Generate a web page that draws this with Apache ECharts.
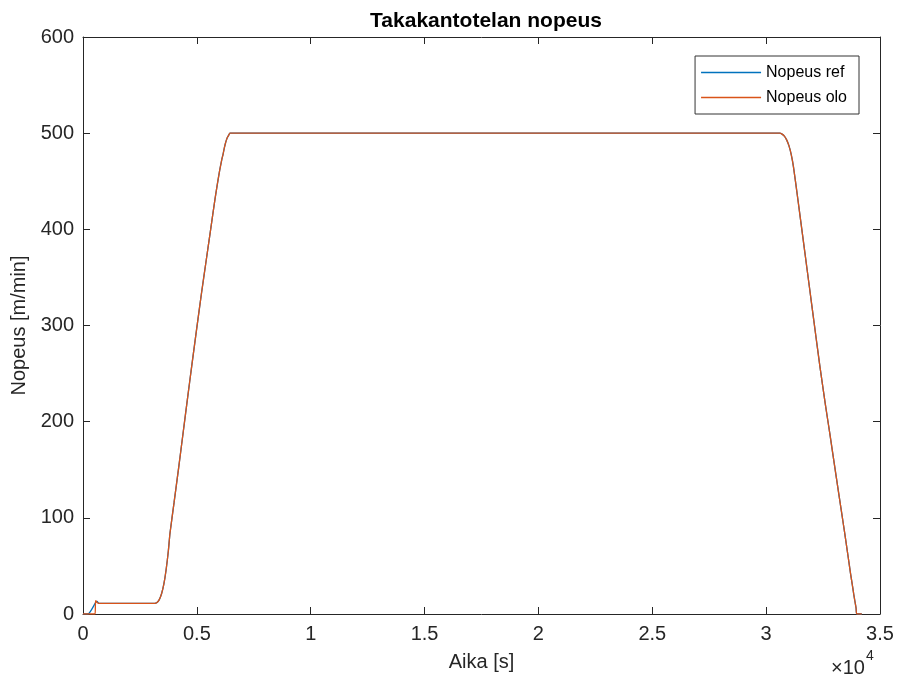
<!DOCTYPE html>
<html>
<head>
<meta charset="utf-8">
<script src="https://cdn.jsdelivr.net/npm/echarts@6/dist/echarts.min.js"></script>
<style>
html,body{margin:0;padding:0;background:#fff;}
#chart{width:897px;height:678px;}
</style>
</head>
<body>
<div id="chart"></div>
<script>
// Series data (time in s, speed in m/min)
const refTime = [0,220,560,620,700,1000,2000,3000,3150,3250,3350,3450,3550,3650,3750,3820,4000,4200,4400,4600,4770,5000,5200,5400,5600,5800,5900,6000,6090,6150,6200,6250,6300,6350,6400,6450,6600,10000,20000,30000,30500,30600,30700,30800,30900,31000,31100,31200,31400,31600,31800,32000,32200,32370,32600,32800,33000,33170,33400,33500,33610,33700,33800,33850,33900,33950,33980,34200];
const refSpeed = [0,0,12,13,11,11,11,11,11,12,15,21,31,46,66,84,116,152,189,226,257,298,333,366,399,432,447,461,472,478,484,489,493,496,498,500,500,500,500,500,500,500,499,497,493,487,478,465,430,394,358,322,286,256,218,187,155,128,92,76,58,43,28,20,13,6,0,0];
const oloTime = [0,530,545,560,620,700,1000,2000,3000,3150,3250,3350,3450,3550,3650,3750,3820,4000,4200,4400,4600,4770,5000,5200,5400,5600,5800,5900,6000,6090,6150,6200,6250,6300,6350,6400,6450,6600,10000,20000,30000,30500,30600,30700,30800,30900,31000,31100,31200,31400,31600,31800,32000,32200,32370,32600,32800,33000,33170,33400,33500,33610,33700,33800,33850,33900,33950,33980,34200];
const oloSpeed = [0,0,10,14,12,11,11,11,11,11,12,15,21,31,46,66,84,116,152,189,226,257,298,333,366,399,432,447,461,472,478,484,489,493,496,498,500,500,500,500,500,500,500,499,497,493,487,478,465,430,394,358,322,286,256,218,187,155,128,92,76,58,43,28,20,13,6,0,0];
const seriesNames = ['Nopeus ref','Nopeus olo'];
const xTicks = {min:0, max:35000, interval:5000};
const yTicks = {min:0, max:600, interval:100};

const FONT = '"Liberation Sans", Arial, sans-serif';
const AX = '#262626';
const zip = (a,b) => a.map((v,i)=>[v,b[i]]);

const chart = echarts.init(document.getElementById('chart'), null, {renderer:'canvas'});
const tickFmt = v => String(v/10000);
chart.setOption({
  animation:false,
  backgroundColor:'#fff',
  title:{text:'Takakantotelan nopeus', left:481, top:6, textAlign:'center',
    textStyle:{fontFamily:FONT, fontWeight:'bold', fontSize:21, color:'#000'}},
  legend:{
    data:seriesNames, orient:'vertical', right:38, top:56,
    icon:'rect', itemWidth:60, itemHeight:1.5, itemGap:6,
    padding:[7,12,7,6],
    borderColor:'#333', borderWidth:1, backgroundColor:'#fff',
    textStyle:{fontFamily:FONT, fontSize:16, color:'#000', lineHeight:19}
  },
  grid:{left:83, right:17, top:37, bottom:64, containLabel:false},
  xAxis:[{
    type:'value', min:xTicks.min, max:xTicks.max, interval:xTicks.interval,
    name:'Aika [s]', nameLocation:'middle', nameGap:38,
    nameTextStyle:{fontFamily:FONT, fontSize:20, color:AX},
    axisLine:{show:true, onZero:false, lineStyle:{color:AX, width:1}},
    axisTick:{show:true, inside:true, length:7, lineStyle:{color:AX}},
    axisLabel:{formatter:tickFmt, fontFamily:FONT, fontSize:20, color:AX, margin:10},
    splitLine:{show:false}
  },{
    type:'value', position:'top', min:xTicks.min, max:xTicks.max, interval:xTicks.interval,
    axisLine:{show:true, onZero:false, lineStyle:{color:AX, width:1}},
    axisTick:{show:true, inside:true, length:7, lineStyle:{color:AX}},
    axisLabel:{show:false}, splitLine:{show:false}
  }],
  yAxis:[{
    type:'value', min:yTicks.min, max:yTicks.max, interval:yTicks.interval,
    name:'Nopeus [m/min]', nameLocation:'middle', nameGap:51, nameRotate:90,
    nameTextStyle:{fontFamily:FONT, fontSize:20, color:AX},
    axisLine:{show:true, onZero:false, lineStyle:{color:AX, width:1}},
    axisTick:{show:true, inside:true, length:7, lineStyle:{color:AX}},
    axisLabel:{fontFamily:FONT, fontSize:20, color:AX, margin:9},
    splitLine:{show:false}
  },{
    type:'value', position:'right', min:yTicks.min, max:yTicks.max, interval:yTicks.interval,
    axisLine:{show:true, onZero:false, lineStyle:{color:AX, width:1}},
    axisTick:{show:true, inside:true, length:7, lineStyle:{color:AX}},
    axisLabel:{show:false}, splitLine:{show:false}
  }],
  graphic:[{
    type:'text', left:831, top:649,
    style:{
      text:'{a|×10}{b|4}',
      rich:{
        a:{fontFamily:FONT, fontSize:20, fill:AX, verticalAlign:'bottom', padding:[9,0,0,0]},
        b:{fontFamily:FONT, fontSize:14, fill:AX, verticalAlign:'top', padding:[0,0,11,1]}
      }
    }
  }],
  series:[
    {name:seriesNames[0], type:'line', data:zip(refTime,refSpeed), showSymbol:false, symbol:'none',
     smooth:0.2, lineStyle:{color:'#0072BD', width:1.3}, itemStyle:{color:'#0072BD'}},
    {name:seriesNames[1], type:'line', data:zip(oloTime,oloSpeed), showSymbol:false, symbol:'none',
     smooth:0.2, lineStyle:{color:'#D95319', width:1.3}, itemStyle:{color:'#D95319'}}
  ]
});
</script>
</body>
</html>
